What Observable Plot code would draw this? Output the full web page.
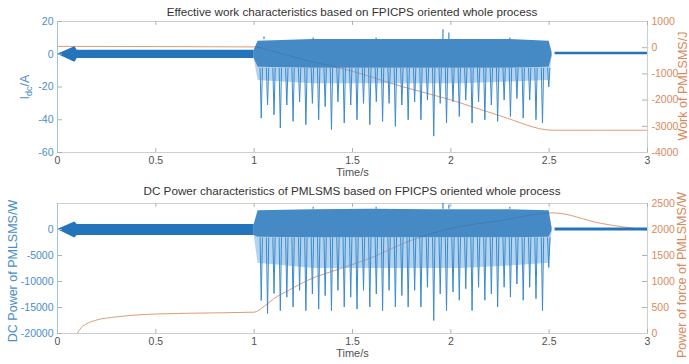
<!DOCTYPE html>
<html><head><meta charset="utf-8">
<script src="https://cdn.jsdelivr.net/npm/d3@7"></script>
<script src="https://cdn.jsdelivr.net/npm/@observablehq/plot@0.6"></script>
<style>
body{margin:0;background:#fff;}
#wrap{position:relative;width:689px;height:364px;font-family:"Liberation Sans",Arial,sans-serif;overflow:hidden;background:#fff}
.title{position:absolute;left:57px;width:590px;text-align:center;font-size:11.7px;line-height:14px;color:#333;white-space:nowrap}
.layer{position:absolute;left:0;}
</style></head><body><div id="wrap"></div>
<script>
// ---------------- data ----------------
const xTicks = [0, 0.5, 1, 1.5, 2, 2.5, 3];
const xTickLabels = ["0", "0.5", "1", "1.5", "2", "2.5", "3"];

const titleTop = "Effective work characteristics based on FPICPS oriented whole process";
const titleBottom = "DC Power characteristics of PMLSMS based on FPICPS oriented whole process";
const xLabel = "Time/s";

// top chart: current Idc (left) and work (right)
const idcTicks = [20, 0, -20, -40, -60];
const workTicks = [1000, 0, -1000, -2000, -3000, -4000];

const idcIdleT  = [0, 0.085, 0.09, 0.10, 1.0];
const idcIdleHi = [0, 4.5, 4.5, 2.4, 2.4];
const idcIdleLo = [0, -4.7, -4.7, -2.6, -2.6];

const idcActT   = [1.0, 1.02, 1.3, 1.6, 1.9, 2.05, 2.3, 2.5, 2.515];
const idcActHi  = [2.4, 8, 9, 9, 9, 9, 9, 8, 1];
const idcActLo  = [-2.6, -8, -8.5, -8.5, -8.5, -8.5, -8.5, -8, -1];
const idcActLo2 = [-2.6, -16, -18, -18, -18, -18, -17, -16, -1];

const idcTailT  = [2.53, 3.0];
const idcTailHi = [1.2, 1.2];
const idcTailLo = [-0.3, -0.3];

const spikeT = [1.036,1.068,1.101,1.133,1.166,1.198,1.231,1.263,1.296,1.328,1.361,1.393,1.426,1.458,1.491,1.523,1.556,1.588,1.621,1.653,1.686,1.718,1.751,1.783,1.816,1.848,1.881,1.913,1.946,1.978,2.011,2.043,2.076,2.108,2.141,2.173,2.206,2.238,2.271,2.303,2.336,2.368,2.401,2.433,2.466,2.498];
const idcSpike = [-39,-31,-37,-45,-31,-41,-29,-43,-30,-40,-32,-46,-29,-42,-31,-40,-30,-43,-29,-41,-30,-44,-31,-40,-29,-40,-28,-50,-30,-42,-29,-38,-28,-42,-29,-40,-31,-41,-28,-38,-27,-39,-28,-40,-42,-20];

const idcPeakT = [1.05, 1.30, 1.62, 1.96, 1.99, 2.30];
const idcPeakV = [10.5, 10, 10, 15, 13, 10];

const workT = [0, 1.0, 1.1, 1.25, 1.5, 1.75, 2.0, 2.25, 2.52, 3.0];
const workV = [50, 30, -150, -450, -900, -1480, -1990, -2600, -3150, -3150];

// bottom chart: DC power (left) and power of force (right)
const pdcTicks = [0, -5000, -10000, -15000, -20000];
const pfTicks = [2500, 2000, 1500, 1000, 500, 0];

const pdcIdleT  = [0, 0.085, 0.09, 0.10, 1.0];
const pdcIdleHi = [0, 1400, 1400, 950, 950];
const pdcIdleLo = [0, -1600, -1600, -1150, -1150];

const pdcActT   = [1.0, 1.02, 1.3, 1.6, 1.9, 2.05, 2.3, 2.5, 2.515];
const pdcActHi  = [950, 3600, 3800, 3900, 3800, 3800, 3800, 3600, 300];
const pdcActLo  = [-1150, -1500, -1600, -1600, -1600, -1600, -1600, -1500, -300];
const pdcActLo2 = [-1150, -6500, -7500, -7500, -7500, -7500, -7000, -6500, -300];

const pdcTailT  = [2.53, 3.0];
const pdcTailHi = [300, 300];
const pdcTailLo = [-300, -300];

const pdcSpike = [-13650,-16150,-12300,-15600,-13000,-14900,-11700,-15600,-12400,-15300,-12700,-15600,-11700,-14900,-13000,-15300,-11700,-14900,-12400,-15600,-11700,-14900,-12700,-14900,-11700,-14900,-11100,-17500,-12400,-15600,-12000,-13600,-11400,-15600,-11100,-13600,-12400,-14900,-11100,-13000,-10500,-13600,-11100,-13300,-15600,-7300];

const pdcPeakT = [1.30, 1.62, 1.96, 1.99, 2.30];
const pdcPeakV = [4300, 4300, 5000, 4700, 4300];

const pfT = [0.1, 0.12, 0.15, 0.2, 0.3, 0.42, 0.68, 1.0, 1.05, 1.1, 1.18, 1.27, 1.44, 1.61, 1.75, 1.85, 2.0, 2.25, 2.52, 2.76, 3.0];
const pfV = [0, 110, 190, 260, 320, 360, 390, 410, 520, 670, 840, 1020, 1250, 1480, 1720, 1860, 2020, 2170, 2320, 2120, 1990];

// ---------------- drawing ----------------
const FONT = '"Liberation Sans", Arial, sans-serif';
const C = {
  core: "#2474bb", hatch: "#6aa8dc", spike: "#3a8ad0",
  orange: "#e39a78", blueText: "#4a8ec8", orangeText: "#d98a5c",
  xText: "#505050", box: "#cfcfcf", blueAxis: "#9cc3e3", orangeAxis: "#e6c0aa", tick: "#b0b0b0"
};
const SPIKE_HALF = 0.006; // half-width of a spike's V, in seconds (drawing style)
const fmt = d => String(d);
const zip3 = (t, a, b) => t.map((v, i) => ({t: v, hi: a[i], lo: b[i]}));

function blueLayer(cfg) {
  const [y0, y1] = cfg.domain;
  const span = y1 - y0;
  const idle = zip3(cfg.idleT, cfg.idleHi, cfg.idleLo);
  const act = cfg.actT.map((v, i) => ({t: v, hi: cfg.actHi[i], lo: cfg.actLo[i], lo2: cfg.actLo2[i]}));
  const tail = zip3(cfg.tailT, cfg.tailHi, cfg.tailLo);
  const base = cfg.actLo[3];
  const vs = cfg.spikeT.flatMap((v, i) => [
    {k: i, t: v - SPIKE_HALF, y: base}, {k: i, t: v, y: cfg.spike[i]}, {k: i, t: v + SPIKE_HALF, y: base}
  ]);
  const peaks = cfg.peakT.map((v, i) => ({t: v, p: cfg.peakV[i]}));
  return Plot.plot({
    width: 689, height: 182, marginLeft: 57, marginRight: 42, marginTop: 21, marginBottom: cfg.mb,
    x: {domain: [0, 3], axis: null}, y: {domain: [y0, y1], axis: null},
    style: {fontFamily: FONT, fontSize: "10.5px", background: "transparent", overflow: "visible"},
    marks: [
      Plot.frame({stroke: C.box}),
      Plot.areaY(idle, {x: "t", y1: "lo", y2: "hi", fill: C.core}),
      Plot.areaY(act, {x: "t", y1: "lo2", y2: "lo", fill: C.hatch, fillOpacity: 0.5}),
      Plot.line(vs, {x: "t", y: "y", z: "k", stroke: C.spike, strokeWidth: 1}),
      Plot.ruleX(peaks, {x: "t", y1: cfg.actHi[3], y2: "p", stroke: C.spike, strokeWidth: 1.2}),
      Plot.areaY(act, {x: "t", y1: "lo", y2: "hi", fill: C.core, fillOpacity: 0.85}),
      Plot.areaY(tail, {x: "t", y1: "lo", y2: "hi", fill: C.core}),
      Plot.axisY(cfg.ticks, {anchor: "left", tickSize: 0, tickPadding: 4, color: C.blueText, tickFormat: fmt, label: null}),
      Plot.ruleY(cfg.ticks, {y: d => d, x1: 0, x2: 0.025, stroke: C.tick}),
      Plot.axisX(xTicks, {tickSize: 0, tickPadding: 4, color: C.xText, label: null,
        tickFormat: d => xTickLabels[xTicks.indexOf(d)]}),
      Plot.ruleX(xTicks, {x: d => d, y1: y0, y2: y0 + span * 0.03, stroke: C.tick}),
      Plot.ruleX(xTicks, {x: d => d, y1: y1, y2: y1 - span * 0.03, stroke: C.tick}),
      Plot.ruleX([0], {stroke: C.blueAxis}),
      Plot.text([xLabel], {frameAnchor: "bottom", dy: 23, fill: C.xText, fontSize: 11})
    ]
  });
}

function orangeLayer(cfg) {
  const pts = cfg.t.map((v, i) => ({t: v, v: cfg.v[i]}));
  return Plot.plot({
    width: 689, height: 182, marginLeft: 57, marginRight: 42, marginTop: 21, marginBottom: cfg.mb,
    x: {domain: [0, 3], axis: null}, y: {domain: cfg.domain, axis: null},
    style: {fontFamily: FONT, fontSize: "10.5px", background: "transparent", overflow: "visible"},
    marks: [
      Plot.line(pts, {x: "t", y: "v", stroke: C.orange, strokeWidth: 1, curve: "monotone-x"}),
      Plot.axisY(cfg.ticks, {anchor: "right", tickSize: 0, tickPadding: 4, color: C.orangeText, tickFormat: fmt, label: null}),
      Plot.ruleY(cfg.ticks, {y: d => d, x1: 2.975, x2: 3, stroke: C.tick}),
      Plot.ruleX([3], {stroke: C.orangeAxis})
    ]
  });
}

function addLabel(svg, x, y, parts, color) {
  const t = d3.select(svg).append("text")
    .attr("transform", `translate(${x},${y}) rotate(-90)`)
    .attr("text-anchor", "middle").attr("fill", color)
    .attr("font-family", FONT).attr("font-size", 12.5);
  parts.forEach(p => {
    const s = t.append("tspan").text(p.text);
    if (p.sub) s.attr("font-size", 9).attr("dy", 3);
    if (p.up) s.attr("dy", -3);
  });
}

const wrap = document.getElementById("wrap");
function place(el, top) { el.classList.add("layer"); el.style.top = top + "px"; wrap.appendChild(el); }

// top chart
const oTop = orangeLayer({t: workT, v: workV, domain: [-4000, 1000], ticks: workTicks, mb: 30});
const bTop = blueLayer({
  domain: [-60, 20], ticks: idcTicks, mb: 30,
  idleT: idcIdleT, idleHi: idcIdleHi, idleLo: idcIdleLo,
  actT: idcActT, actHi: idcActHi, actLo: idcActLo, actLo2: idcActLo2,
  tailT: idcTailT, tailHi: idcTailHi, tailLo: idcTailLo,
  spikeT: spikeT, spike: idcSpike, peakT: idcPeakT, peakV: idcPeakV
});
place(oTop, 0); place(bTop, 0);
addLabel(bTop, 29, 87, [{text: "I"}, {text: "dc", sub: true}, {text: "/A", up: true}], C.blueText);
addLabel(oTop, 687, 86, [{text: "Work of PMLSMS/J"}], C.orangeText);

// bottom chart
const oBot = orangeLayer({t: pfT, v: pfV, domain: [0, 2500], ticks: pfTicks, mb: 31});
const bBot = blueLayer({
  domain: [-20000, 5000], ticks: pdcTicks, mb: 31,
  idleT: pdcIdleT, idleHi: pdcIdleHi, idleLo: pdcIdleLo,
  actT: pdcActT, actHi: pdcActHi, actLo: pdcActLo, actLo2: pdcActLo2,
  tailT: pdcTailT, tailHi: pdcTailHi, tailLo: pdcTailLo,
  spikeT: spikeT, spike: pdcSpike, peakT: pdcPeakT, peakV: pdcPeakV
});
place(oBot, 182); place(bBot, 182);
addLabel(bBot, 17, 89, [{text: "DC Power of PMLSMS/W"}], C.blueText);
addLabel(oBot, 686, 93, [{text: "Power of force of PMLSMS/W"}], C.orangeText);

// titles
const t1 = document.createElement("div"); t1.className = "title"; t1.style.top = "5px"; t1.textContent = titleTop; wrap.appendChild(t1);
const t2 = document.createElement("div"); t2.className = "title"; t2.style.top = "184px"; t2.textContent = titleBottom; wrap.appendChild(t2);
</script></body></html>
